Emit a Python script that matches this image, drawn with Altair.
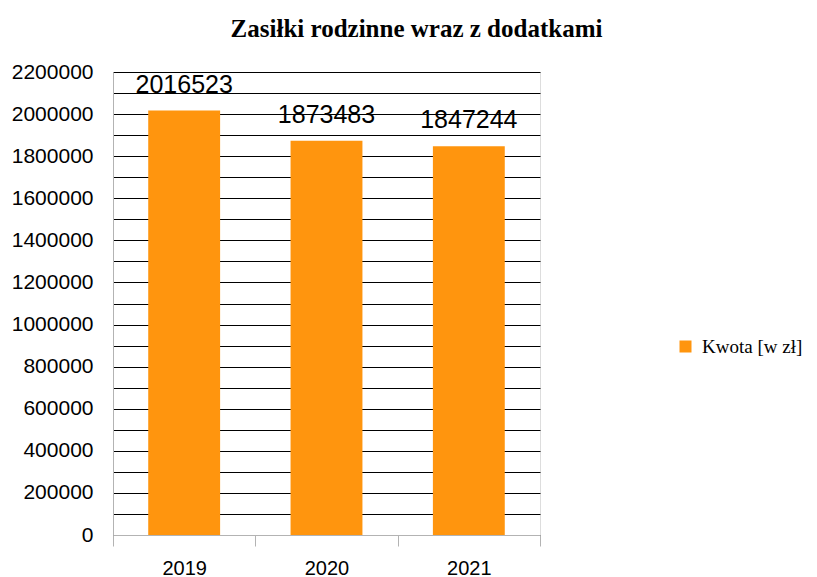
import altair as alt
import pandas as pd

years = ["2019", "2020", "2021"]
amounts = [2016523, 1873483, 1847244]
series_name = "Kwota [w zł]"
y_tick_values = list(range(0, 2200001, 100000))
title_text = "Zasiłki rodzinne wraz z dodatkami"

df = pd.DataFrame({"rok": years, "kwota": amounts, "seria": [series_name] * len(years)})

W, H = 427, 463
ORANGE = "#ff950e"
GREY = "#b3b3b3"

x_enc = alt.X(
    "rok:N", sort=years, title=None,
    scale=alt.Scale(paddingInner=0, paddingOuter=0),
    axis=alt.Axis(
        labelAngle=0, tickBand="extent", domainColor=GREY, tickColor=GREY,
        tickSize=11, labelFontSize=20, labelFont="Liberation Sans",
        labelColor="black", labelPadding=12, grid=False,
    ),
)
y_enc = alt.Y(
    "kwota:Q", title=None,
    scale=alt.Scale(domain=[0, 2200000], nice=False, zero=True),
    axis=alt.Axis(
        values=y_tick_values,
        labelExpr="datum.value % 200000 == 0 ? datum.value : ''",
        ticks=False, domainColor=GREY, grid=True, gridColor="black",
        gridWidth=1, gridOpacity=1, labelFontSize=21,
        labelFont="Liberation Sans", labelColor="black", labelPadding=20,
    ),
)

bars = alt.Chart(df).mark_bar(width=alt.RelativeBandSize(0.505)).encode(
    x=x_enc,
    y=y_enc,
    color=alt.Color(
        "seria:N", title=None,
        scale=alt.Scale(range=[ORANGE]),
        legend=alt.Legend(
            orient="none", legendX=563, legendY=265, padding=0, symbolType="square",
            symbolSize=144, symbolStrokeWidth=0, labelFont="Liberation Serif",
            labelFontSize=19, labelColor="black", labelOffset=7, labelLimit=300,
        ),
    ),
)

labels = alt.Chart(df).mark_text(
    font="Liberation Sans", fontSize=25, baseline="bottom", dy=-13, color="black"
).encode(
    x=x_enc,
    y=y_enc,
    text=alt.Text("kwota:Q", format="d"),
)

chart = (
    alt.layer(bars, labels)
    .properties(
        width=W, height=H,
        title=alt.TitleParams(
            title_text, font="Liberation Serif", fontSize=25, fontWeight="bold",
            anchor="middle", dx=90, offset=19, color="black",
        ),
        autosize=alt.AutoSizeParams(type="none"),
        padding={"left": 105, "top": 64, "right": 269, "bottom": 42},
    )
    .configure_view(strokeWidth=0, stroke="transparent")
    .configure(background="white")
)

chart.save("out.html", embed_options={"renderer": "svg", "actions": False})
